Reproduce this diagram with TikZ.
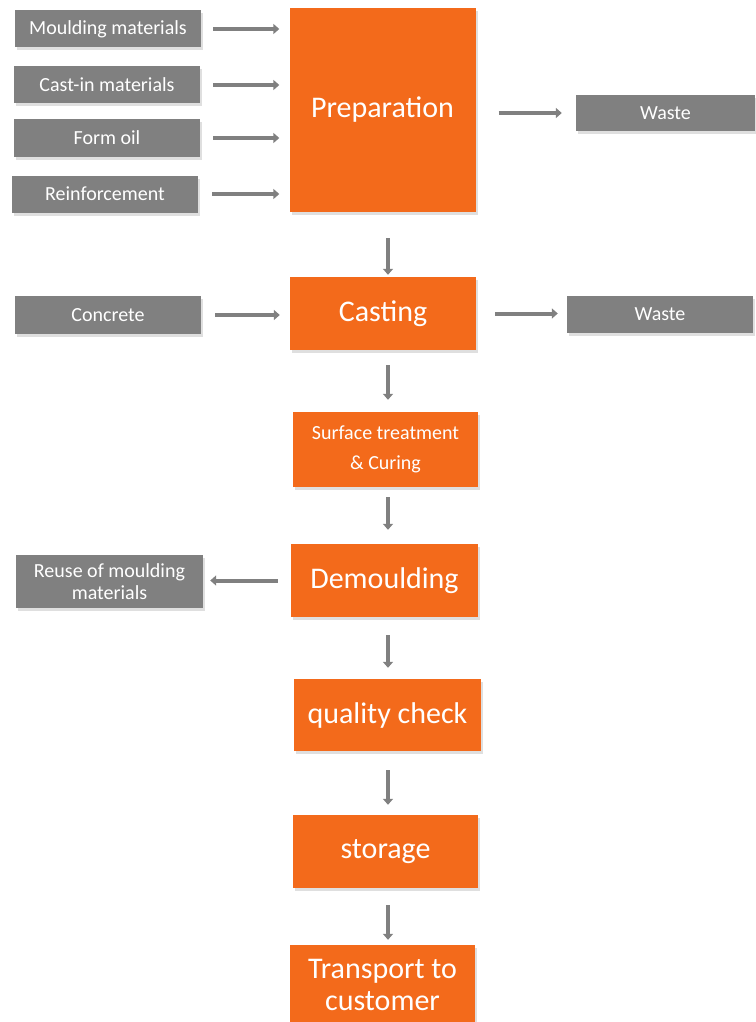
\documentclass[tikz,border=0pt]{standalone}
\usepackage{fontspec}
\setmainfont{Carlito}
\definecolor{PlantOrange}{HTML}{F36A1B}
\definecolor{InputGrey}{HTML}{808080}
\usetikzlibrary{arrows.meta,positioning,shadows}

\begin{document}
\begin{tikzpicture}[x=1pt,y=-1pt,every node/.style={text=white,align=center,inner sep=0pt,drop shadow={shadow xshift=2pt,shadow yshift=-3pt,opacity=0.25}},
    input/.style={fill=InputGrey,minimum width=186pt,minimum height=37pt,font=\fontsize{20}{22}\selectfont},
    stage/.style={fill=PlantOrange,minimum width=186pt,minimum height=73pt,font=\fontsize{30}{32}\selectfont},
    flow/.style={-{Triangle[length=6pt,width=10pt]},line width=4pt,draw=InputGrey}]
      \useasboundingbox (0,0) rectangle (755,1022);
      \node[input] (mould) at (108,29) {Moulding materials};
      \node[input] (castin) at (107,85) {Cast-in materials};
      \node[input] (oil) at (107,138) {Form oil};
      \node[input] (reinf) at (105,194) {Reinforcement};
      \node[stage,minimum height=204pt] (prep) at (382.5,110) {Preparation};
      \node[input,minimum width=179pt,minimum height=36pt] (waste1) at (665.5,113) {Waste};
      \node[input,minimum height=38pt] (conc) at (108,315) {Concrete};
      \node[stage] (cast) at (383,313.5) {Casting};
      \node[input] (waste2) at (660,314.5) {Waste};
      \node[stage,minimum width=185pt,minimum height=75pt,font=\fontsize{20}{30}\selectfont] (surf) at (385.5,449.5) {Surface treatment\\\& Curing};
      \node[stage,minimum width=187pt] (demould) at (384.5,580.5) {Demoulding};
      \node[input,minimum width=187pt,minimum height=53pt] (reuse) at (109.5,581.5) {Reuse of moulding\\materials};
      \node[stage,minimum width=187pt,minimum height=72pt] (qc) at (387.5,715) {quality check};
      \node[stage,minimum width=185pt] (store) at (385.5,851.5) {storage};
      \node[stage,minimum width=185pt,minimum height=80pt] (trans) at (382.5,985) {Transport to\\customer};
      \draw[flow,shorten <=12pt,shorten >=10pt] (mould.east) -- (mould.east -| prep.west);
      \draw[flow,shorten <=13pt,shorten >=10pt] (castin.east) -- (castin.east -| prep.west);
      \draw[flow,shorten <=13pt,shorten >=10pt] (oil.east) -- (oil.east -| prep.west);
      \draw[flow,shorten <=14pt,shorten >=10pt] (reinf.east) -- (reinf.east -| prep.west);
      \draw[flow,shorten <=23pt,shorten >=14pt] (prep.east |- waste1.west) -- (waste1.west);
      \draw[flow,shorten <=26pt,shorten >=2pt] ([xshift=5.5pt]prep.south) -- ([xshift=5.5pt]prep.south |- cast.north);
      \draw[flow,shorten <=14pt,shorten >=10pt] (conc.east) -- (conc.east -| cast.west);
      \draw[flow,shorten <=19pt,shorten >=9pt] (cast.east) -- (cast.east -| waste2.west);
      \draw[flow,shorten <=15pt,shorten >=12pt] ([xshift=5pt]cast.south) -- ([xshift=5pt]cast.south |- surf.north);
      \draw[flow,shorten <=10pt,shorten >=14pt] ([xshift=2.5pt]surf.south) -- ([xshift=2.5pt]surf.south |- demould.north);
      \draw[flow,shorten <=13pt,shorten >=7pt] (demould.west) -- (demould.west -| reuse.east);
      \draw[flow,shorten <=18pt,shorten >=11pt] ([xshift=3.5pt]demould.south) -- ([xshift=3.5pt]demould.south |- qc.north);
      \draw[flow,shorten <=19pt,shorten >=10pt] ([xshift=0.5pt]qc.south) -- ([xshift=0.5pt]qc.south |- store.north);
      \draw[flow,shorten <=17pt,shorten >=5pt] ([xshift=2.5pt]store.south) -- ([xshift=2.5pt]store.south |- trans.north);
    \end{tikzpicture}
\end{document}
